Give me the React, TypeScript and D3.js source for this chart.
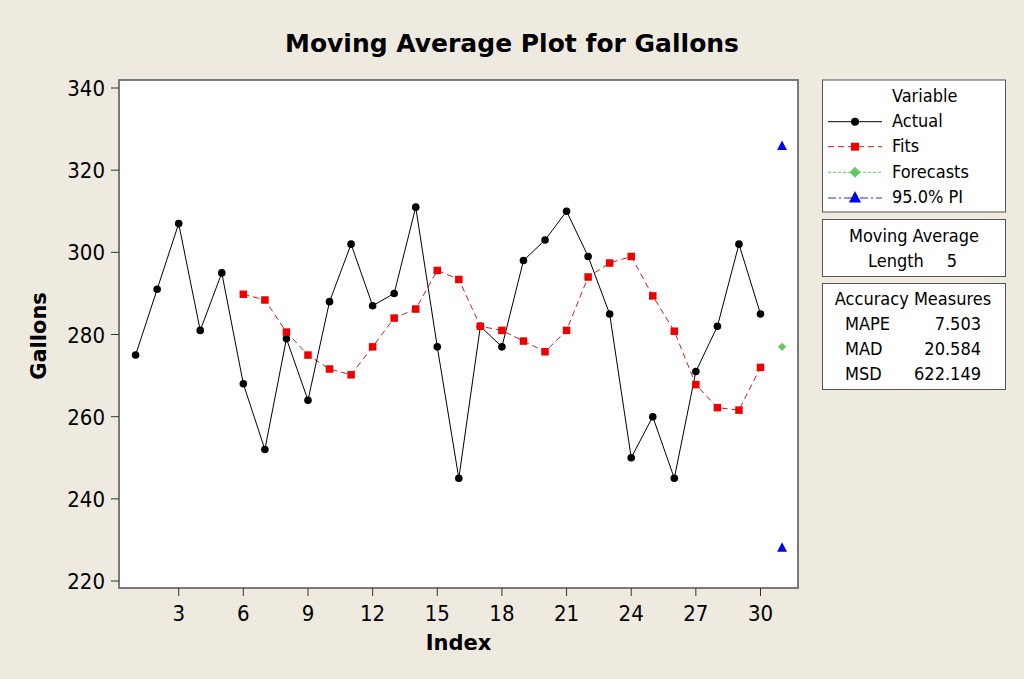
import React from "react";
import * as d3 from "d3";

const indexes = d3.range(1, 31);
const actual = [275, 291, 307, 281, 295, 268, 252, 279, 264, 288, 302, 287, 290, 311, 277, 245, 282, 277, 298, 303, 310, 299, 285, 250, 260, 245, 271, 282, 302, 285];
const fitIndexes = d3.range(6, 31);
const fits = [289.8, 288.4, 280.6, 275.0, 271.6, 270.2, 277.0, 284.0, 286.2, 295.6, 293.4, 282.0, 281.0, 278.4, 275.8, 281.0, 294.0, 297.4, 299.0, 289.4, 280.8, 267.8, 262.2, 261.6, 272.0];
const forecastIndex = 31;
const forecast = 277.0;
const piUpper = 325.9;
const piLower = 228.1;
const xTicks = [3, 6, 9, 12, 15, 18, 21, 24, 27, 30];
const yTicks = [220, 240, 260, 280, 300, 320, 340];
const legendItems = ["Actual", "Fits", "Forecasts", "95.0% PI"];
const accuracyLabels = ["MAPE", "MAD", "MSD"];
const accuracyValues = ["7.503", "20.584", "622.149"];

const W = 1024;
const H = 679;
const plot = { left: 119, right: 798, top: 80, bottom: 588 };
const FONT = "'DejaVu Sans Condensed', 'DejaVu Sans', sans-serif";
const BOLD = "'DejaVu Sans', sans-serif";
const BG = "#EEEAE0";

export default function App() {
  const x = d3.scaleLinear().domain([0.23, 31.74]).range([plot.left, plot.right]);
  const y = d3.scaleLinear().domain([218.3, 341.95]).range([plot.bottom, plot.top]);

  const actualLine = d3.line<number>().x((_, i) => x(indexes[i])).y((d) => y(d))(actual) || "";
  const fitLine = d3.line<number>().x((_, i) => x(fitIndexes[i])).y((d) => y(d))(fits) || "";

  const sq = 7.5;
  const tri = (cx: number, cy: number, s: number) =>
    `M${cx},${cy - s * 0.6} L${cx + s * 0.55},${cy + s * 0.45} L${cx - s * 0.55},${cy + s * 0.45} Z`;
  const dia = (cx: number, cy: number, s: number) =>
    `M${cx},${cy - s} L${cx + s},${cy} L${cx},${cy + s} L${cx - s},${cy} Z`;

  const legRowY = [121.7, 146.7, 172.3, 198];
  const legTextY = [127, 152, 177.5, 203];

  return (
    <div style={{ position: "fixed", left: 0, top: 0, width: W, height: H }}>
      <svg width={W} height={H} style={{ display: "block" }}>
        <rect x={0} y={0} width={W} height={H} fill={BG} />
        <text x={512} y={52} textAnchor="middle" fontFamily={BOLD} fontWeight="bold" fontSize={25} fill="#000">
          Moving Average Plot for Gallons
        </text>

        {/* plot frame */}
        <rect x={plot.left} y={plot.top} width={plot.right - plot.left} height={plot.bottom - plot.top} fill="#fff" stroke="#7a7a7a" strokeWidth={2} />

        {/* y axis ticks */}
        {yTicks.map((t) => (
          <g key={"y" + t}>
            <line x1={plot.left - 8} x2={plot.left} y1={y(t)} y2={y(t)} stroke="#333" strokeWidth={1} />
            <text x={105} y={y(t) + 8} textAnchor="end" fontFamily={FONT} fontSize={22} fill="#000">
              {t}
            </text>
          </g>
        ))}
        {xTicks.map((t) => (
          <g key={"x" + t}>
            <line x1={x(t)} x2={x(t)} y1={plot.bottom} y2={plot.bottom + 8} stroke="#333" strokeWidth={1} />
            <text x={x(t)} y={621} textAnchor="middle" fontFamily={FONT} fontSize={22} fill="#000">
              {t}
            </text>
          </g>
        ))}
        <text x={458.5} y={650} textAnchor="middle" fontFamily={BOLD} fontWeight="bold" fontSize={21} fill="#000">
          Index
        </text>
        <text transform="translate(46,336) rotate(-90)" textAnchor="middle" fontFamily={BOLD} fontWeight="bold" fontSize={21} fill="#000">
          Gallons
        </text>

        {/* fits */}
        <path d={fitLine} fill="none" stroke="#C02020" strokeWidth={1} strokeDasharray="6,4" />
        {/* actual */}
        <path d={actualLine} fill="none" stroke="#000" strokeWidth={1} />
        {actual.map((v, i) => (
          <circle key={"a" + i} cx={x(indexes[i])} cy={y(v)} r={3.8} fill="#000" />
        ))}
        {fits.map((v, i) => (
          <rect key={"f" + i} x={x(fitIndexes[i]) - sq / 2} y={y(v) - sq / 2} width={sq} height={sq} fill="#EE0000" />
        ))}
        <path d={dia(x(forecastIndex), y(forecast), 4.2)} fill="#66C566" />
        <path d={tri(x(forecastIndex), y(piUpper), 9)} fill="#0000EE" />
        <path d={tri(x(forecastIndex), y(piLower), 9)} fill="#0000EE" />

        {/* legend box 1 */}
        <rect x={822.5} y={80} width={183} height={132} fill="#fff" stroke="#555" strokeWidth={1} />
        <text x={892} y={102} fontFamily={FONT} fontSize={18} fill="#000">Variable</text>
        {legendItems.map((lab, i) => (
          <text key={lab} x={892} y={legTextY[i]} fontFamily={FONT} fontSize={18} fill="#000">{lab}</text>
        ))}
        <line x1={828} x2={882} y1={legRowY[0]} y2={legRowY[0]} stroke="#000" strokeWidth={1} />
        <circle cx={855} cy={legRowY[0]} r={4} fill="#000" />
        <line x1={828} x2={882} y1={legRowY[1]} y2={legRowY[1]} stroke="#C02020" strokeWidth={1} strokeDasharray="6,4" />
        <rect x={855 - 4} y={legRowY[1] - 4} width={8} height={8} fill="#EE0000" />
        <line x1={828} x2={882} y1={legRowY[2]} y2={legRowY[2]} stroke="#66C566" strokeWidth={1} strokeDasharray="3,2" />
        <path d={dia(855, legRowY[2], 5.5)} fill="#66C566" />
        <line x1={828} x2={882} y1={legRowY[3]} y2={legRowY[3]} stroke="#3030A0" strokeWidth={1} strokeDasharray="8,3,2,3" />
        <path d={tri(855, legRowY[3] - 0.5, 11)} fill="#0000EE" />

        {/* legend box 2 */}
        <rect x={822.5} y={219.5} width={183} height={57} fill="#fff" stroke="#555" strokeWidth={1} />
        <text x={914} y={242} textAnchor="middle" fontFamily={FONT} fontSize={18} fill="#000">Moving Average</text>
        <text x={868} y={267} fontFamily={FONT} fontSize={18} fill="#000">Length</text>
        <text x={957} y={267} textAnchor="end" fontFamily={FONT} fontSize={18} fill="#000">5</text>

        {/* legend box 3 */}
        <rect x={822.5} y={283.5} width={183} height={106} fill="#fff" stroke="#555" strokeWidth={1} />
        <text x={913} y={305} textAnchor="middle" fontFamily={FONT} fontSize={18} fill="#000">Accuracy Measures</text>
        {accuracyLabels.map((lab, i) => (
          <g key={lab}>
            <text x={845} y={330 + i * 25} fontFamily={FONT} fontSize={18} fill="#000">{lab}</text>
            <text x={981} y={330 + i * 25} textAnchor="end" fontFamily={FONT} fontSize={18} fill="#000">{accuracyValues[i]}</text>
          </g>
        ))}
      </svg>
    </div>
  );
}
